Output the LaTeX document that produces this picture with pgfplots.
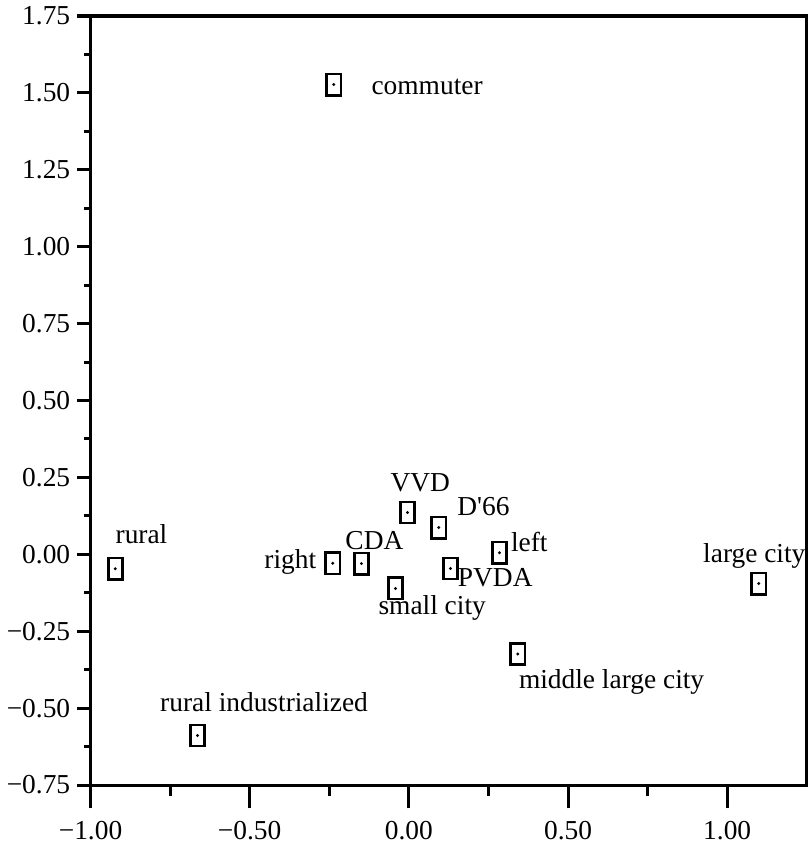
\documentclass[border=0pt]{standalone}
\usepackage{fontspec}
\setmainfont{Liberation Serif}
\usepackage{pgfplots}
\pgfplotsset{compat=1.18}

\pgfdeclareplotmark{boxdot}{%
  \pgfpathrectangle{\pgfqpoint{-3.5pt}{-5.25pt}}{\pgfqpoint{7pt}{10.5pt}}%
  \pgfusepathqstroke
  \pgfpathcircle{\pgfpointorigin}{0.8pt}%
  \pgfusepathqfill
}

\begin{document}
\begin{tikzpicture}
\pgfplotsset{
  common/.style={
    width=353pt, height=379pt, scale only axis,
    xmin=-1, xmax=1.25, ymin=-0.75, ymax=1.75,
    axis line style={line width=1.5pt},
    tick style={line width=1.5pt, black},
    tick align=outside,
    tick label style={font=\fontsize{13.5}{16}\selectfont},
  },
  lab/.style n args={3}{only marks, mark=boxdot,
    mark options={line width=1.3pt, black},
    point meta=explicit symbolic, nodes near coords,
    every node near coord/.append style={anchor=#1, inner sep=0pt,
      xshift=#2*0.5pt, yshift=#3*0.5pt,
      font=\fontsize{13.5}{16}\selectfont, black}},
}
% x-axis ticks (longer)
\begin{axis}[common,
  xtick={-1,-0.5,0,0.5,1},
  xticklabels={−1.00,−0.50,0.00,0.50,1.00},
  minor xtick={-0.75,-0.25,0.25,0.75},
  xtick pos=bottom,
  ytick=\empty,
  major tick length=11.5pt, minor tick length=5.5pt,
  xticklabel shift=3pt,
]
\end{axis}
% y-axis ticks and data
\begin{axis}[common,
  xtick=\empty,
  ytick={-0.75,-0.5,-0.25,0,0.25,0.5,0.75,1,1.25,1.5,1.75},
  yticklabels={−0.75,−0.50,−0.25,0.00,0.25,0.50,0.75,1.00,1.25,1.50,1.75},
  minor ytick={-0.625,-0.375,-0.125,0.125,0.375,0.625,0.875,1.125,1.375,1.625},
  ytick pos=left,
  major tick length=6.5pt, minor tick length=3pt,
  clip=false,
]
\addplot[lab={base west}{36}{-10}] coordinates {(-0.236,1.527) [commuter]};
\addplot[lab={base west}{-1}{25}] coordinates {(-0.922,-0.047) [rural]};
\addplot[lab={base east}{-15}{-5}] coordinates {(-0.239,-0.029) [right]};
\addplot[lab={base west}{-17}{14}] coordinates {(-0.149,-0.030) [CDA]};
\addplot[lab={base west}{-18}{21}] coordinates {(-0.004,0.136) [VVD]};
\addplot[lab={base west}{17}{12}] coordinates {(0.094,0.087) [D\textquotesingle66]};
\addplot[lab={base west}{-18}{-26}] coordinates {(-0.042,-0.111) [small city]};
\addplot[lab={base west}{6}{-18}] coordinates {(0.131,-0.046) [PVDA]};
\addplot[lab={base west}{10}{1}] coordinates {(0.285,0.005) [left]};
\addplot[lab={base west}{-56}{21}] coordinates {(1.099,-0.095) [large city]};
\addplot[lab={base west}{0}{-34}] coordinates {(0.342,-0.324) [middle large city]};
\addplot[lab={base west}{-38}{24}] coordinates {(-0.664,-0.589) [rural industrialized]};
\end{axis}
\end{tikzpicture}
\end{document}
